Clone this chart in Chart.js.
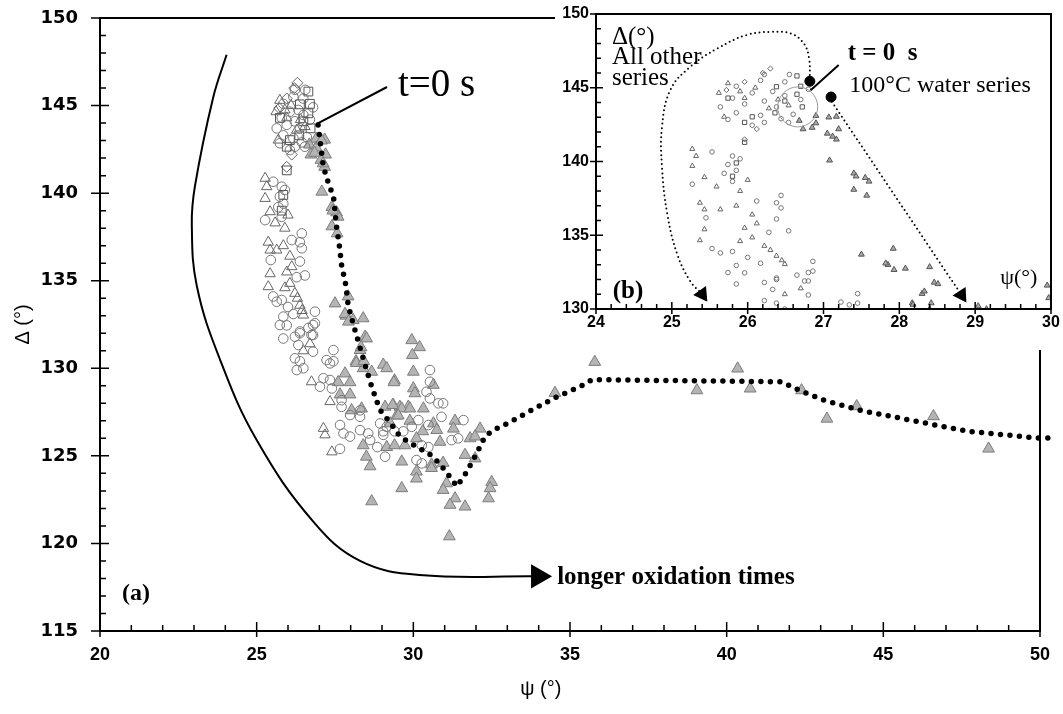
<!DOCTYPE html>
<html>
<head>
<meta charset="utf-8">
<script src="https://cdn.jsdelivr.net/npm/chart.js@4.4.0/dist/chart.umd.min.js"></script>
<style>
  body { margin: 0; background: #fff; }
  #wrap { position: relative; width: 1063px; height: 714px; }
  #mainChart { position: absolute; left: 0; top: 0; background: #fff; }
  #insetChart { position: absolute; left: 555px; top: 0; background: #fff; }
</style>
</head>
<body>
<div id="wrap">
  <canvas id="mainChart" width="1063" height="714"></canvas>
  <canvas id="insetChart" width="508" height="350"></canvas>
</div>
<script>
// tick labels
const mainPsiTicks = [20, 25, 30, 35, 40, 45, 50];
const mainDeltaTicks = [115, 120, 125, 130, 135, 140, 145, 150];
const insetPsiTicks = [24, 25, 26, 27, 28, 29, 30];
const insetDeltaTicks = [130, 135, 140, 145, 150];

// 100°C water series [psi, delta]
const water100 = [
  [26.9,143.1],[27.17,143.05],[26.68,142.77],[26.9,142.6],[27.2,142.2],[26.73,142.2],[27.05,141.9],[27.17,141.5],
  [27.07,143.0],[26.85,142.3],[27.12,141.7],
  [27.08,140.08],[27.4,139.2],[27.55,138.9],[27.6,138.65],[27.4,138.1],[27.57,137.7],[27.43,139.0],
  [27.5,133.7],[27.92,134.1],[27.85,133.0],[28.08,132.75],[28.4,132.85],[28.46,131.8],[27.82,133.1],[27.93,132.66],
  [28.51,131.7],[28.3,131.04],[28.17,130.4],[28.4,130.0],[28.67,129.8],[27.82,129.7],[27.6,129.2],[27.98,129.2],
  [29.04,130.2],[29.15,130.0],[29.4,129.3],[27.66,128.5],[27.98,128.5],[28.03,127.6],[28.35,127.7],[29.1,127.8],
  [29.36,127.9],[29.57,127.8],[29.84,127.8],[29.47,127.3],[29.26,126.85],[28.4,125.6],[29.15,125.5],[29.4,125.6],
  [28.33,131.2],[28.18,130.3],[28.42,130.4],
  [29.95,131.6],[30.2,131.2],[29.97,130.75],[30.0,129.8],[29.38,129.2],[30.0,128.85],[30.05,128.57],[30.64,129.05],
  [29.34,127.9],[29.63,127.7],[29.89,127.7],[30.32,127.7],[29.89,127.0],[29.52,127.3],[30.64,126.85],[31.33,127.0],
  [31.28,126.55],[30.75,126.47],[30.3,126.4],[32.13,126.55],[31.81,126.0],[31.97,126.1],[30.85,125.8],[29.73,125.6],
  [30.1,126.0],[31.65,125.05],[31.97,124.85],[29.63,124.67],[30.58,124.5],[30.58,124.3],[30.95,124.6],[30.1,124.1],
  [30.1,123.7],[31.06,123.43],[30.95,123.05],[29.63,123.15],[31.33,122.57],[31.17,122.2],[31.65,122.1],[32.5,123.5],
  [32.45,123.15],[32.4,122.57],[28.67,122.4],[31.15,120.4],[28.62,124.4],[28.5,124.95],
  [34.52,128.59],[35.79,130.36],[39.05,128.74],[40.35,129.98],[40.75,128.84],[42.39,128.74],[43.2,127.12],
  [44.15,127.83],[46.6,127.26],[48.36,125.41]
];

// all other series, by symbol
const otherCircles = [
  [26.22,145.9],[26.17,145.5],[25.85,145.1],[26.49,145.4],[25.8,144.3],[26.06,144.65],[26.33,144.75],[26.49,144.46],
  [25.64,143.7],[25.96,143.9],[26.22,144.1],[26.38,143.7],[25.85,143.3],[26.17,143.13],[26.44,142.9],[25.74,142.85],
  [26.22,142.65],[26.54,142.65],[26.6,143.2],[26.06,142.46],[26.7,144.2],[26.8,144.9],[26.55,145.9],
  [25.53,140.65],[25.8,140.37],[25.9,140.18],[25.74,139.8],[25.85,139.4],[25.69,139.2],[25.27,138.46],[25.8,138.65],
  [26.44,137.7],[26.12,137.32],[26.38,137.2],[26.44,136.85],[25.45,136.18],[26.38,136.1],[26.54,135.3],[26.28,135.2],
  [25.53,134.1],[25.8,133.9],[25.64,133.8],[26.0,133.5],[26.17,133.1],[25.85,132.95],[26.86,133.23],[26.86,132.57],
  [25.74,132.47],[25.96,132.45],[26.65,132.3],[26.75,131.9],[26.38,132.0],[25.85,131.7],
  [26.22,131.8],[26.38,132.1],[26.8,132.47],[26.8,131.9],[26.33,131.33],[26.8,130.95],[27.45,131.04],[26.22,130.57],
  [26.38,130.4],[26.28,129.9],[26.49,130.0],[27.23,130.47],[27.34,130.28],[27.45,130.4],[27.13,129.43],[27.34,129.33],
  [27.02,128.95],[27.4,128.85],[27.71,128.18],[27.71,127.8],[28.3,127.6],[27.98,127.33],[27.66,126.76],[27.77,126.28],
  [27.98,126.1],[28.3,126.47],[28.56,126.28],[28.3,127.23],[28.94,126.85],[29.04,126.4],[28.62,125.9],[27.66,125.4],
  [28.85,125.5],
  [30.53,129.9],[30.53,129.23],[30.42,128.66],[30.53,128.28],[30.8,128.0],[30.95,128.0],[30.9,127.23],[30.16,127.04],
  [29.95,126.66],[29.15,126.66],[29.04,126.2],[29.68,126.4],[31.6,127.04],[31.22,125.9],[31.43,126.0],[30.48,126.76],
  [30.27,125.6],[30.48,125.5],[29.1,124.95],[30.1,124.76],[30.27,124.57],[29.4,126.4]
];
const otherTriangles = [
  [25.74,145.3],[25.62,144.65],[25.9,144.75],[26.54,143.8],[25.69,143.03],[26.28,143.6],[25.96,144.3],[26.1,145.0],[26.4,144.2],
  [25.27,140.85],[25.32,140.37],[25.27,139.7],[25.43,138.94],[25.59,138.3],[25.9,138.0],[26.0,138.75],[25.37,137.2],
  [25.43,136.75],[25.64,136.75],[25.85,137.0],[26.06,136.4],[25.43,135.4],[25.96,135.5],[26.12,135.8],[25.37,134.66],
  [26.06,134.85],[26.22,134.28],[26.38,133.6],[26.49,133.04],[25.9,134.6],[26.3,134.0],[26.45,133.3],
  [26.75,129.23],[27.34,128.1],[27.13,126.57],[27.18,126.2],[26.7,131.4],[26.49,131.0],[27.4,125.23]
];
const otherSquares = [
  [26.65,145.8],[26.38,145.07],[26.7,145.1],[26.65,144.56],[26.72,143.7],[26.06,143.03],[26.36,143.3],[25.96,142.65],
  [25.74,144.3],[26.49,144.1],[25.96,141.3],[25.85,139.9],[25.8,139.0]
];
const otherDiamonds = [
  [26.3,146.3],[25.96,145.4],[25.72,144.85],[26.12,142.2],[25.96,141.5],[26.2,146.0]
];

// dotted trend of the 100°C series
const waterTrend = [
  [26.96,143.89],[27.05,142.6],[27.13,141.5],[27.32,140.4],[27.45,139.84],[27.55,138.08],[27.64,136.98],[27.71,135.9],
  [27.85,134.7],[27.92,133.6],[28.09,132.47],[28.26,131.42],[28.44,130.32],[28.62,129.23],[28.83,128.13],[28.94,127.61],
  [29.15,127.14],[29.36,126.66],[29.54,126.19],[29.79,125.85],[30.31,125.31],[30.63,124.97],[31.01,124.17],[31.39,123.26],
  [31.70,124.07],[32.02,125.14],[32.29,126.11],[32.54,126.46],[33.09,126.93],[33.66,127.50],[34.49,128.29],[35.42,129.04],
  [35.7,129.35],[41.74,129.23],[42.31,128.75],[43.11,128.17],[44.26,127.6],[46.46,126.83],[47.72,126.4],[49.91,126.02],
  [50.26,126.02]
];

// guide arrow, main panel
const timeArrow = [
  [24.04,147.9],[23.61,145.45],[23.03,140.4],[22.93,138.2],[23.09,134.7],[23.83,130.5],[25.0,125.9],[26.8,121.26],
  [28.3,119.0],[30.2,118.2],[33.98,118.12]
];
const mainLeader = [[26.89,143.92],[29.16,146.06]];

// inset guides
const otherArrow = [
  [26.82,145.55],[26.81,146.98],[26.74,148.0],[26.57,148.68],[26.32,148.79],[25.99,148.58],[25.6,147.66],[25.24,146.41],
  [24.98,144.85],[24.87,142.34],[24.87,139.63],[24.94,136.44],[25.07,133.73],[25.24,131.9],[25.4,131.0]
];
const waterArrow = [[27.11,144.05],[28.82,130.95]];
const startPoints = [[26.82,145.44],[27.1,144.37]];
const startRing = [[26.66,143.7]];
const insetLeader = [[26.83,144.83],[27.2,146.54]];

const toXY = pts => pts.map(p => ({x: p[0], y: p[1]}));
const sans = "'Liberation Sans', Arial, sans-serif";
const wideSans = "'DejaVu Sans', Verdana, sans-serif";
const serif = "'Liberation Serif', 'Times New Roman', serif";

// keep the plot box where the figure has it: no extra room for edge labels
const fixHeight = h => s => { s.height = h; s.paddingLeft = 0; s.paddingRight = 0; };
const fixWidth = w => s => { s.width = w; s.paddingTop = 0; s.paddingBottom = 0; };

function axesPlugin(cfg) {
  return {
    id: 'axesFrame',
    afterDatasetsDraw(chart) {
      const {ctx, chartArea: a, scales} = chart;
      const xs = scales.x, ys = scales.y;
      ctx.save();
      ctx.strokeStyle = '#000';
      ctx.lineWidth = cfg.frameWidth;
      ctx.strokeRect(a.left, a.top, a.right - a.left, a.bottom - a.top);
      ctx.lineWidth = cfg.tickWidth;
      ctx.beginPath();
      const ny = Math.round((ys.max - ys.min) / cfg.yMinor);
      for (let i = 0; i <= ny; i++) {
        const py = ys.getPixelForValue(ys.min + i * cfg.yMinor);
        const major = i % cfg.yEvery === 0;
        ctx.moveTo(a.left - (major ? cfg.yOut : 0), py);
        ctx.lineTo(a.left + (major ? cfg.majIn : cfg.minIn), py);
      }
      const nx = Math.round((xs.max - xs.min) / cfg.xMinor);
      for (let i = 0; i <= nx; i++) {
        const px = xs.getPixelForValue(xs.min + i * cfg.xMinor);
        const major = i % cfg.xEvery === 0;
        ctx.moveTo(px, a.bottom + (major ? cfg.xOut : 0));
        ctx.lineTo(px, a.bottom - (major ? cfg.majIn : cfg.minIn));
      }
      ctx.stroke();
      ctx.restore();
    }
  };
}

function notesPlugin(notes) {
  return {
    id: 'notes',
    afterDraw(chart) {
      const {ctx, scales: {x, y}} = chart;
      ctx.save();
      ctx.fillStyle = '#000';
      ctx.textBaseline = 'alphabetic';
      notes.forEach(n => {
        ctx.font = n.font;
        ctx.textAlign = n.align || 'left';
        ctx.fillText(n.text, x.getPixelForValue(n.x), y.getPixelForValue(n.y));
      });
      ctx.restore();
    }
  };
}

const lastOnly = (n, v) => ctx => (ctx.dataIndex === n - 1 ? v : 0);

// ---- main panel (a)
new Chart(document.getElementById('mainChart'), {
  type: 'scatter',
  data: {
    datasets: [
      {
        data: toXY(waterTrend), showLine: true, borderColor: '#000', borderWidth: 5.5,
        borderDash: [0, 9.5], borderCapStyle: 'round', pointRadius: 0, clip: false, order: 0
      },
      {
        data: toXY(timeArrow), showLine: true, tension: 0.4, borderColor: '#000', borderWidth: 2,
        pointStyle: 'triangle', pointRadius: lastOnly(timeArrow.length, 12), pointRotation: 90,
        pointBackgroundColor: '#000', pointBorderColor: '#000', order: 1
      },
      {
        data: toXY(mainLeader), showLine: true, borderColor: '#000', borderWidth: 2, pointRadius: 0, order: 1
      },
      {
        data: toXY(otherSquares), pointStyle: 'rect', pointRadius: 6.2, borderWidth: 1,
        pointBorderColor: '#555', pointBackgroundColor: 'transparent', order: 2
      },
      {
        data: toXY(otherDiamonds), pointStyle: 'rectRot', pointRadius: 5.5, borderWidth: 1,
        pointBorderColor: '#666', pointBackgroundColor: 'transparent', order: 2
      },
      {
        data: toXY(otherCircles), pointStyle: 'circle', pointRadius: 4.8, borderWidth: 1,
        pointBorderColor: '#777', pointBackgroundColor: 'transparent', order: 2
      },
      {
        data: toXY(otherTriangles), pointStyle: 'triangle', pointRadius: 6, borderWidth: 1,
        pointBorderColor: '#666', pointBackgroundColor: 'transparent', order: 2
      },
      {
        data: toXY(water100), pointStyle: 'triangle', pointRadius: 6.8, borderWidth: 1,
        pointBorderColor: '#7c7c7c', pointBackgroundColor: '#b4b4b4', order: 3
      }
    ]
  },
  options: {
    responsive: false,
    animation: false,
    devicePixelRatio: 1,
    events: [],
    layout: {autoPadding: false, padding: {top: 18, right: 23, left: 0, bottom: 0}},
    plugins: {legend: {display: false}, tooltip: {enabled: false}},
    scales: {
      x: {
        type: 'linear', min: 20, max: 50,
        afterBuildTicks: s => { s.ticks = mainPsiTicks.map(v => ({value: v})); },
        afterFit: fixHeight(83),
        grid: {display: false, drawTicks: false},
        border: {display: false},
        ticks: {font: {family: sans, size: 18, weight: 'bold'}, color: '#000', padding: 13, maxRotation: 0, autoSkip: false}
      },
      y: {
        type: 'linear', min: 115, max: 150,
        afterBuildTicks: s => { s.ticks = mainDeltaTicks.map(v => ({value: v})); },
        afterFit: fixWidth(100),
        grid: {display: false, drawTicks: false},
        border: {display: false},
        title: {display: true, text: 'Δ (°)', color: '#000', font: {family: sans, size: 20}, padding: {top: 11, bottom: 0}},
        ticks: {font: {family: wideSans, size: 18, weight: 'bold'}, color: '#000', padding: 22, autoSkip: false}
      }
    }
  },
  plugins: [
    axesPlugin({frameWidth: 2, tickWidth: 1.5, yMinor: 1, yEvery: 5, xMinor: 1, xEvery: 5,
                yOut: 9, xOut: 6, majIn: 9, minIn: 6}),
    notesPlugin([
      {text: 't=0 s', x: 29.51, y: 145.55, font: `39px ${serif}`},
      {text: 'longer oxidation times', x: 34.59, y: 117.68, font: `bold 25px ${serif}`},
      {text: '(a)', x: 20.7, y: 116.77, font: `bold 24px ${serif}`},
      {text: 'ψ (°)', x: 34.07, y: 111.34, font: `20px ${sans}`, align: 'center'}
    ])
  ]
});

// ---- inset panel (b)
new Chart(document.getElementById('insetChart'), {
  type: 'scatter',
  data: {
    datasets: [
      {
        data: toXY(startPoints), pointStyle: 'circle', pointRadius: 5, pointBackgroundColor: '#000',
        pointBorderColor: '#000', order: 0, clip: 0
      },
      {
        data: toXY(insetLeader), showLine: true, borderColor: '#000', borderWidth: 2, pointRadius: 0, order: 0
      },
      {
        data: toXY(otherArrow), showLine: true, tension: 0.4, borderColor: '#000', borderWidth: 2,
        borderDash: [0, 4.5], borderCapStyle: 'round', pointStyle: 'triangle',
        pointRadius: lastOnly(otherArrow.length, 7), pointRotation: 145,
        pointBackgroundColor: '#000', pointBorderColor: '#000', order: 1
      },
      {
        data: toXY(waterArrow), showLine: true, borderColor: '#000', borderWidth: 2,
        borderDash: [0, 4.5], borderCapStyle: 'round', pointStyle: 'triangle',
        pointRadius: lastOnly(waterArrow.length, 7), pointRotation: 147,
        pointBackgroundColor: '#000', pointBorderColor: '#000', order: 1
      },
      {
        data: toXY(startRing), pointStyle: 'circle', pointRadius: 20, borderWidth: 1,
        pointBorderColor: '#999', pointBackgroundColor: 'transparent', order: 2
      },
      {
        data: toXY(otherSquares), pointStyle: 'rect', pointRadius: 3, borderWidth: 1,
        pointBorderColor: '#555', pointBackgroundColor: 'transparent', order: 2, clip: 0
      },
      {
        data: toXY(otherDiamonds), pointStyle: 'rectRot', pointRadius: 2.6, borderWidth: 1,
        pointBorderColor: '#666', pointBackgroundColor: 'transparent', order: 2, clip: 0
      },
      {
        data: toXY(otherCircles), pointStyle: 'circle', pointRadius: 2.3, borderWidth: 1,
        pointBorderColor: '#777', pointBackgroundColor: 'transparent', order: 2, clip: 0
      },
      {
        data: toXY(otherTriangles), pointStyle: 'triangle', pointRadius: 2.9, borderWidth: 1,
        pointBorderColor: '#666', pointBackgroundColor: 'transparent', order: 2, clip: 0
      },
      {
        data: toXY(water100), pointStyle: 'triangle', pointRadius: 3.4, borderWidth: 1,
        pointBorderColor: '#555', pointBackgroundColor: '#a8a8a8', order: 3, clip: 0
      }
    ]
  },
  options: {
    responsive: false,
    animation: false,
    devicePixelRatio: 1,
    events: [],
    layout: {autoPadding: false, padding: {top: 14, right: 12, left: 0, bottom: 0}},
    plugins: {legend: {display: false}, tooltip: {enabled: false}},
    scales: {
      x: {
        type: 'linear', min: 24, max: 30,
        afterBuildTicks: s => { s.ticks = insetPsiTicks.map(v => ({value: v})); },
        afterFit: fixHeight(41),
        grid: {display: false, drawTicks: false},
        border: {display: false},
        ticks: {font: {family: sans, size: 16, weight: 'bold'}, color: '#000', padding: 4, maxRotation: 0, autoSkip: false}
      },
      y: {
        type: 'linear', min: 130, max: 150,
        afterBuildTicks: s => { s.ticks = insetDeltaTicks.map(v => ({value: v})); },
        afterFit: fixWidth(41),
        grid: {display: false, drawTicks: false},
        border: {display: false},
        ticks: {font: {family: sans, size: 16, weight: 'bold'}, color: '#000', padding: 7, autoSkip: false}
      }
    }
  },
  plugins: [
    axesPlugin({frameWidth: 2, tickWidth: 1.5, yMinor: 1, yEvery: 5, xMinor: 0.2, xEvery: 5,
                yOut: 6, xOut: 5, majIn: 7, minIn: 5}),
    notesPlugin([
      {text: 'Δ(°)', x: 24.21, y: 147.97, font: `25px ${serif}`},
      {text: 'All other', x: 24.21, y: 146.64, font: `25px ${serif}`},
      {text: 'series', x: 24.21, y: 145.19, font: `25px ${serif}`},
      {text: 't = 0  s', x: 27.32, y: 146.88, font: `bold 25px ${serif}`},
      {text: '100°C water series', x: 27.34, y: 144.71, font: `24px ${serif}`},
      {text: '(b)', x: 24.22, y: 130.77, font: `bold 25px ${serif}`},
      {text: 'ψ(°)', x: 29.33, y: 131.69, font: `22px ${serif}`}
    ])
  ]
});
</script>
</body>
</html>
